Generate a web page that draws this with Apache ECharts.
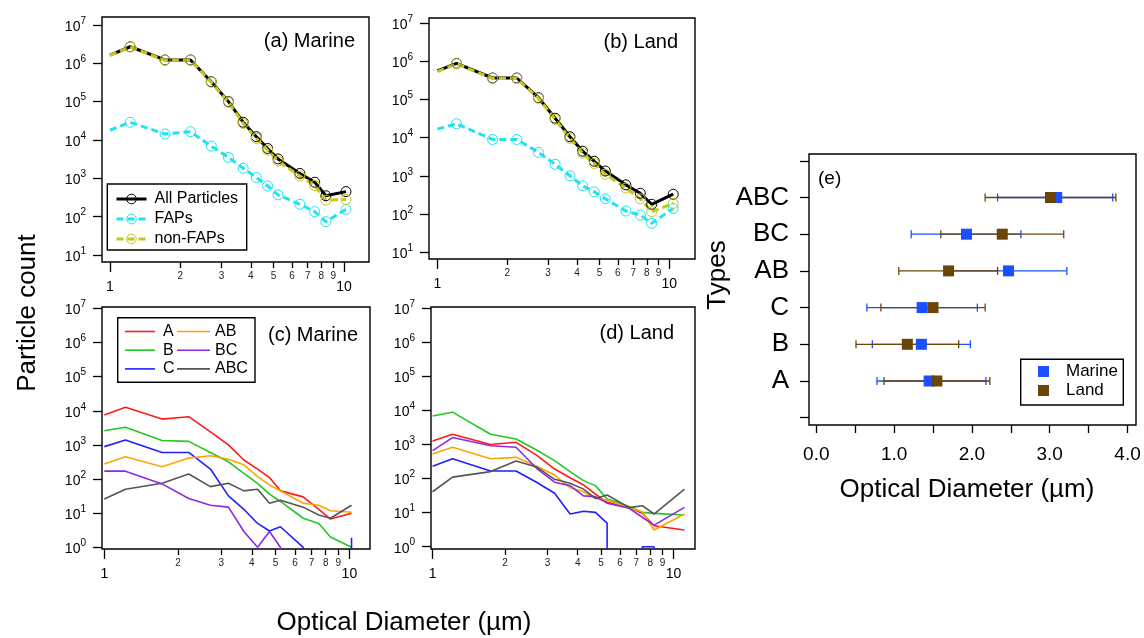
<!DOCTYPE html>
<html>
<head>
<meta charset="utf-8">
<script src="https://cdn.jsdelivr.net/npm/echarts@6/dist/echarts.min.js"></script>
<style>html,body{margin:0;padding:0;background:#fff}#c{width:1144px;height:638px}</style>
</head>
<body>
<div id="c"></div>
<script>
// ---------------- data ----------------
const diamMarine = [1.0, 1.22, 1.72, 2.21, 2.71, 3.21, 3.71, 4.22, 4.72, 5.23, 6.48, 7.5, 8.37, 10.2];
const diamLand = [1.0, 1.21, 1.73, 2.2, 2.73, 3.22, 3.73, 4.23, 4.75, 5.3, 6.5, 7.5, 8.4, 10.4];
const diamLandTypes = [1.0, 1.21, 1.74, 2.22, 2.7, 3.21, 3.72, 4.23, 4.74, 5.3, 6.55, 7.42, 8.3, 11.1];

const marineAll = [1.64e6, 2.7e6, 1.22e6, 1.22e6, 3.3e5, 1.0e5, 2.9e4, 1.22e4, 6.0e3, 3.2e3, 1.34e3, 7.9e2, 3.5e2, 4.5e2];
const marineFAP = [1.8e4, 2.9e4, 1.43e4, 1.64e4, 6.9e3, 3.5e3, 1.83e3, 1.05e3, 6.3e2, 3.7e2, 2.1e2, 1.35e2, 74, 1.55e2];
const marineNonFAP = [1.62e6, 2.67e6, 1.2e6, 1.2e6, 3.2e5, 9.6e4, 2.7e4, 1.1e4, 5.4e3, 2.8e3, 1.15e3, 6.5e2, 2.7e2, 2.8e2];

const landAll = [5.5e5, 8.7e5, 3.6e5, 3.6e5, 1.1e5, 3.2e4, 1.05e4, 4.4e3, 2.4e3, 1.33e3, 5.8e2, 3.5e2, 1.8e2, 3.3e2];
const landFAP = [1.66e4, 2.3e4, 8.9e3, 8.9e3, 4.1e3, 2.0e3, 1.0e3, 5.5e2, 3.8e2, 2.5e2, 1.2e2, 94, 57, 1.4e2];
const landNonFAP = [5.3e5, 8.5e5, 3.5e5, 3.5e5, 1.06e5, 3.0e4, 9.5e3, 3.9e3, 2.1e3, 1.1e3, 4.8e2, 2.5e2, 1.15e2, 1.9e2];

const marineA = [7.5e3, 1.26e4, 5.7e3, 6.7e3, 2.4e3, 1.0e3, 3.6e2, 1.96e2, 1.1e2, 45, 30, 13, 6.7, 9.9];
const marineB = [2.6e3, 3.3e3, 1.35e3, 1.27e3, 6.0e2, 3.2e2, 1.47e2, 75, 36, 22, 7.1, 5.0, 2.0, 1];
const marineC = [8.9e2, 1.4e3, 6.0e2, 6.0e2, 1.96e2, 32, 13, 5.0, 3.0, 4.0, 1, 0, 0, 1.9];
const marineAB = [2.75e2, 4.5e2, 2.3e2, 4.1e2, 4.8e2, 3.8e2, 2.6e2, 1.17e2, 67, 45, 19.5, 17, 11.8, 10.6];
const marineBC = [1.7e2, 1.7e2, 72, 27, 17, 15, 2.9, 1, 2.9, 1, 0, 0, 0, 0];
const marineABC = [26, 50, 75, 1.4e2, 60, 75, 45, 50, 19.5, 24, 15, 8.8, 7.1, 17];

const landA = [1.27e3, 2.0e3, 1.0e3, 1.16e3, 4.9e2, 1.9e2, 1.06e2, 65, 35, 20, 14, 9.6, 4.1, 3.1];
const landB = [6.9e3, 8.9e3, 2.0e3, 1.45e3, 6.9e2, 3.35e2, 1.6e2, 87, 62, 25, 15, 10.2, 9.5, 8.5];
const landC = [2.3e2, 3.8e2, 1.67e2, 1.67e2, 78, 37, 9.1, 11, 10.2, 4.9, 0, 1, 1, 0];
const landAB = [5.3e2, 8.3e2, 3.8e2, 4.2e2, 2.3e2, 1.27e2, 54, 41, 26, 23.5, 13.4, 10.6, 3.1, 9.1];
const landBC = [6.6e2, 1.6e3, 9.2e2, 8.3e2, 2.0e2, 78, 62, 31, 29.5, 19, 13.4, 7.3, 4.3, 14.3];
const landABC = [41, 1.1e2, 1.6e2, 3.3e2, 2.2e2, 95, 73, 49, 26, 33, 14, 16, 9.1, 49];

const typeNames = ['A', 'B', 'C', 'AB', 'BC', 'ABC'];
const marineMean = [1.45, 1.35, 1.36, 2.47, 1.93, 3.09];
const marineLow = [0.78, 0.72, 0.65, 1.72, 1.22, 2.33];
const marineHigh = [2.18, 1.98, 2.07, 3.22, 2.63, 3.81];
const landMean = [1.55, 1.17, 1.50, 1.70, 2.39, 3.01];
const landLow = [0.87, 0.51, 0.83, 1.06, 1.60, 2.17];
const landHigh = [2.23, 1.83, 2.17, 2.33, 3.18, 3.85];

const xMajorTicks = [1, 10];
const xMinorTicks = [2, 3, 4, 5, 6, 7, 8, 9];
const yDecadesTop = [1, 2, 3, 4, 5, 6, 7];
const yDecadesBottom = [0, 1, 2, 3, 4, 5, 6, 7];
const eXTicks = [0, 0.5, 1, 1.5, 2, 2.5, 3, 3.5, 4];
const eXLabels = [0, 1, 2, 3, 4];

// ---------------- style / layout ----------------
const FONT = '"Liberation Sans", Arial, Helvetica, sans-serif';
const COL = {all: '#000000', fap: '#1ee3f0', non: '#c6c61e',
  A: '#ff1a1a', B: '#22c822', C: '#1f1fff', AB: '#ffa500', BC: '#8a2be2', ABC: '#555555',
  marine: '#1a50ff', land: '#6b4508'};

const grids = [
  {left: 102, top: 17, width: 267, height: 245},
  {left: 429, top: 18, width: 266, height: 241},
  {left: 102, top: 307, width: 268, height: 242},
  {left: 431, top: 307, width: 264, height: 242},
  {left: 809, top: 154, width: 327, height: 271}
].map(g => Object.assign(g, {show: true, borderColor: '#000', borderWidth: 1.4,
  backgroundColor: 'transparent', containLabel: false, outerBoundsMode: 'none'}));

const xAxis = [], yAxis = [];
function tickStyle(len) { return {show: true, inside: false, length: len, lineStyle: {color: '#000', width: 1.3}}; }

function addLogPanel(g, xr, yr, yTicks) {
  const xi = xAxis.length;
  xAxis.push({type: 'log', gridIndex: g, min: Math.pow(10, xr[0]), max: Math.pow(10, xr[1]), show: false,
    axisLine: {show: false, onZero: false}, splitLine: {show: false}});
  xAxis.push({type: 'value', gridIndex: g, min: xr[0], max: xr[1], position: 'bottom',
    axisLine: {show: false, onZero: false}, splitLine: {show: false},
    axisTick: Object.assign(tickStyle(10), {customValues: xMajorTicks.map(Math.log10)}),
    axisLabel: {show: true, customValues: xMajorTicks.map(Math.log10), margin: 18, fontSize: 14,
      fontFamily: FONT, color: '#000', formatter: v => String(Math.round(Math.pow(10, v)))}});
  xAxis.push({type: 'value', gridIndex: g, min: xr[0], max: xr[1], position: 'bottom',
    axisLine: {show: false, onZero: false}, splitLine: {show: false},
    axisTick: Object.assign(tickStyle(6), {customValues: xMinorTicks.map(Math.log10)}),
    axisLabel: {show: true, customValues: xMinorTicks.map(Math.log10), margin: 9, fontSize: 10,
      fontFamily: FONT, color: '#222', formatter: v => String(Math.round(Math.pow(10, v)))}});
  const yi = yAxis.length;
  yAxis.push({type: 'log', gridIndex: g, min: Math.pow(10, yr[0]), max: Math.pow(10, yr[1]), show: false,
    axisLine: {show: false, onZero: false}, splitLine: {show: false}});
  yAxis.push({type: 'value', gridIndex: g, min: yr[0], max: yr[1], position: 'left',
    axisLine: {show: false, onZero: false}, splitLine: {show: false},
    axisTick: Object.assign(tickStyle(9), {customValues: yTicks}),
    axisLabel: {show: true, customValues: yTicks, margin: 16, color: '#000',
      formatter: v => '{b|10}{s|' + Math.round(v) + '}',
      rich: {b: {fontSize: 14, lineHeight: 18, verticalAlign: 'bottom', fontFamily: FONT, color: '#000'},
             s: {fontSize: 10, lineHeight: 10, verticalAlign: 'top', fontFamily: FONT, color: '#000'}}}});
  return {xi, yi};
}

const pA = addLogPanel(0, [-0.034, 1.107], [0.817, 7.207], yDecadesTop);
const pB = addLogPanel(1, [-0.036, 1.111], [0.825, 7.125], yDecadesTop);
const pC = addLogPanel(2, [-0.0094, 1.084], [-0.05, 7.04], yDecadesBottom);
const pD = addLogPanel(3, [-0.0066, 1.089], [-0.068, 7.037], yDecadesBottom);

const eX = xAxis.length;
xAxis.push({type: 'value', gridIndex: 4, min: -0.094, max: 4.109, position: 'bottom',
  axisLine: {show: false, onZero: false}, splitLine: {show: false},
  axisTick: Object.assign(tickStyle(8), {customValues: eXTicks}),
  axisLabel: {show: true, customValues: eXLabels, margin: 20, fontSize: 19, fontFamily: FONT, color: '#000',
    formatter: v => Number(v).toFixed(1)}});
const eY = yAxis.length;
yAxis.push({type: 'value', gridIndex: 4, min: -0.199, max: 7.185, position: 'left',
  axisLine: {show: false, onZero: false}, splitLine: {show: false},
  axisTick: Object.assign(tickStyle(9), {customValues: [0, 1, 2, 3, 4, 5, 6, 7]}),
  axisLabel: {show: true, customValues: [1, 2, 3, 4, 5, 6], margin: 20, fontSize: 26, fontFamily: FONT, color: '#000',
    formatter: v => typeNames[Math.round(v) - 1] || ''}});

// ---------------- series ----------------
const FLOOR = 1e-4;
function toPoints(xs, ys, firstNoSymbol) {
  const out = [];
  for (let i = 0; i < ys.length; i++) {
    const v = ys[i];
    if (!(v > 0)) continue;
    if (i > 0 && !(ys[i - 1] > 0)) out.push([xs[i], FLOOR]);
    out.push(firstNoSymbol && i === 0 ? {value: [xs[i], v], symbol: 'none'} : [xs[i], v]);
    if (i < ys.length - 1 && !(ys[i + 1] > 0)) { out.push([xs[i], FLOOR]); out.push([xs[i], '-']); }
  }
  return out;
}

const series = [];
function sizeSeries(p, name, xs, ys, color, dashed) {
  series.push({type: 'line', name, xAxisIndex: p.xi, yAxisIndex: p.yi, data: toPoints(xs, ys, true),
    symbol: 'circle', symbolSize: 10, showSymbol: true, showAllSymbol: true, connectNulls: false,
    lineStyle: {color, width: 3, type: dashed ? [7, 4] : 'solid'},
    itemStyle: {color: 'rgba(255,255,255,0)', borderColor: color, borderWidth: 1},
    emphasis: {disabled: true}, silent: true, animation: false});
}
sizeSeries(pA, 'All Particles', diamMarine, marineAll, COL.all, false);
sizeSeries(pA, 'FAPs', diamMarine, marineFAP, COL.fap, true);
sizeSeries(pA, 'non-FAPs', diamMarine, marineNonFAP, COL.non, true);
sizeSeries(pB, 'All Particles', diamLand, landAll, COL.all, false);
sizeSeries(pB, 'FAPs', diamLand, landFAP, COL.fap, true);
sizeSeries(pB, 'non-FAPs', diamLand, landNonFAP, COL.non, true);

function typeSeries(p, name, xs, ys) {
  series.push({type: 'line', name, xAxisIndex: p.xi, yAxisIndex: p.yi, data: toPoints(xs, ys, false),
    symbol: 'none', connectNulls: false, lineStyle: {color: COL[name], width: 1.6},
    itemStyle: {color: COL[name]}, emphasis: {disabled: true}, silent: true, animation: false});
}
typeSeries(pC, 'A', diamMarine, marineA);
typeSeries(pC, 'B', diamMarine, marineB);
typeSeries(pC, 'C', diamMarine, marineC);
typeSeries(pC, 'AB', diamMarine, marineAB);
typeSeries(pC, 'BC', diamMarine, marineBC);
typeSeries(pC, 'ABC', diamMarine, marineABC);
typeSeries(pD, 'A', diamLandTypes, landA);
typeSeries(pD, 'B', diamLandTypes, landB);
typeSeries(pD, 'C', diamLandTypes, landC);
typeSeries(pD, 'AB', diamLandTypes, landAB);
typeSeries(pD, 'BC', diamLandTypes, landBC);
typeSeries(pD, 'ABC', diamLandTypes, landABC);

function errSeries(name, lows, highs, color) {
  series.push({type: 'custom', name, xAxisIndex: eX, yAxisIndex: eY,
    data: typeNames.map((t, i) => [lows[i], highs[i], i + 1]),
    encode: {x: [0, 1], y: 2}, silent: true, animation: false,
    renderItem(params, api) {
      const y = api.value(2);
      const a = api.coord([api.value(0), y]);
      const b = api.coord([api.value(1), y]);
      const h = 4;
      const st = {stroke: color, lineWidth: 1.3};
      return {type: 'group', children: [
        {type: 'line', shape: {x1: a[0], y1: a[1], x2: b[0], y2: b[1]}, style: st},
        {type: 'line', shape: {x1: a[0], y1: a[1] - h, x2: a[0], y2: a[1] + h}, style: st},
        {type: 'line', shape: {x1: b[0], y1: b[1] - h, x2: b[0], y2: b[1] + h}, style: st}
      ]};
    }});
}
function meanSeries(name, means, color) {
  series.push({type: 'scatter', name, xAxisIndex: eX, yAxisIndex: eY,
    data: typeNames.map((t, i) => [means[i], i + 1]), symbol: 'rect', symbolSize: 11,
    itemStyle: {color, opacity: 1}, emphasis: {disabled: true}, silent: true, animation: false});
}
errSeries('Marine range', marineLow, marineHigh, COL.marine);
meanSeries('Marine', marineMean, COL.marine);
errSeries('Land range', landLow, landHigh, COL.land);
meanSeries('Land', landMean, COL.land);

// ---------------- legends & texts ----------------
const legTxt = (extra) => Object.assign({fontSize: 16, fontFamily: FONT, color: '#000', padding: [0, 0, 0, 3]}, extra || {});
const legend = [
  {data: ['All Particles', 'FAPs', 'non-FAPs'], orient: 'vertical', left: 115, top: 191, padding: 0,
   itemWidth: 30, itemHeight: 12, itemGap: 4, selectedMode: false, textStyle: legTxt(),
   lineStyle: {width: 3}, itemStyle: {borderWidth: 1}},
  {data: ['A', 'B', 'C'], orient: 'vertical', left: 125, top: 323.5, padding: 0, itemWidth: 30, itemHeight: 1.6,
   icon: 'rect', itemGap: 2.7, selectedMode: false, textStyle: legTxt()},
  {data: ['AB', 'BC', 'ABC'], orient: 'vertical', left: 177, top: 323.5, padding: 0, itemWidth: 33, itemHeight: 1.6,
   icon: 'rect', itemGap: 2.7, selectedMode: false, textStyle: legTxt({padding: 0})},
  {data: ['Marine', 'Land'], orient: 'vertical', left: 1038, top: 363, padding: 0, itemWidth: 11, itemHeight: 11,
   itemGap: 2, icon: 'rect', selectedMode: false, textStyle: legTxt({fontSize: 17, padding: [0, 0, 0, 12]})}
];

function txt(text, x, y, size, align, rot) {
  return {type: 'text', x, y, rotation: rot || 0, silent: true, z: 50,
    style: {text, fontSize: size, fontFamily: FONT, fill: '#000', align: align || 'center', verticalAlign: 'middle'}};
}
function box(x, y, w, h) {
  return {type: 'rect', shape: {x, y, width: w, height: h}, silent: true, z: 40,
    style: {fill: 'none', stroke: '#000', lineWidth: 1.4}};
}
const graphic = [
  box(107.3, 184, 139.4, 66),
  box(117.7, 317.7, 137.3, 64.6),
  box(1020.7, 359.3, 102.6, 45.7),
  txt('(a) Marine', 355, 41, 20, 'right'),
  txt('(b) Land', 678, 42, 20, 'right'),
  txt('(c) Marine', 358, 335, 20, 'right'),
  txt('(d) Land', 674, 333, 20, 'right'),
  txt('(e)', 818, 179, 19, 'left'),
  txt('Particle count', 28, 313, 26, 'center', Math.PI / 2),
  txt('Optical Diameter (µm)', 404, 623, 26, 'center'),
  txt('Types', 718, 275, 26, 'center', Math.PI / 2),
  txt('Optical Diameter (µm)', 967, 490, 26, 'center')
];

const chart = echarts.init(document.getElementById('c'), null, {renderer: 'canvas'});
chart.setOption({
  backgroundColor: '#ffffff',
  animation: false,
  textStyle: {fontFamily: FONT},
  grid: grids, xAxis, yAxis, series, legend, graphic
});
</script>
</body>
</html>
